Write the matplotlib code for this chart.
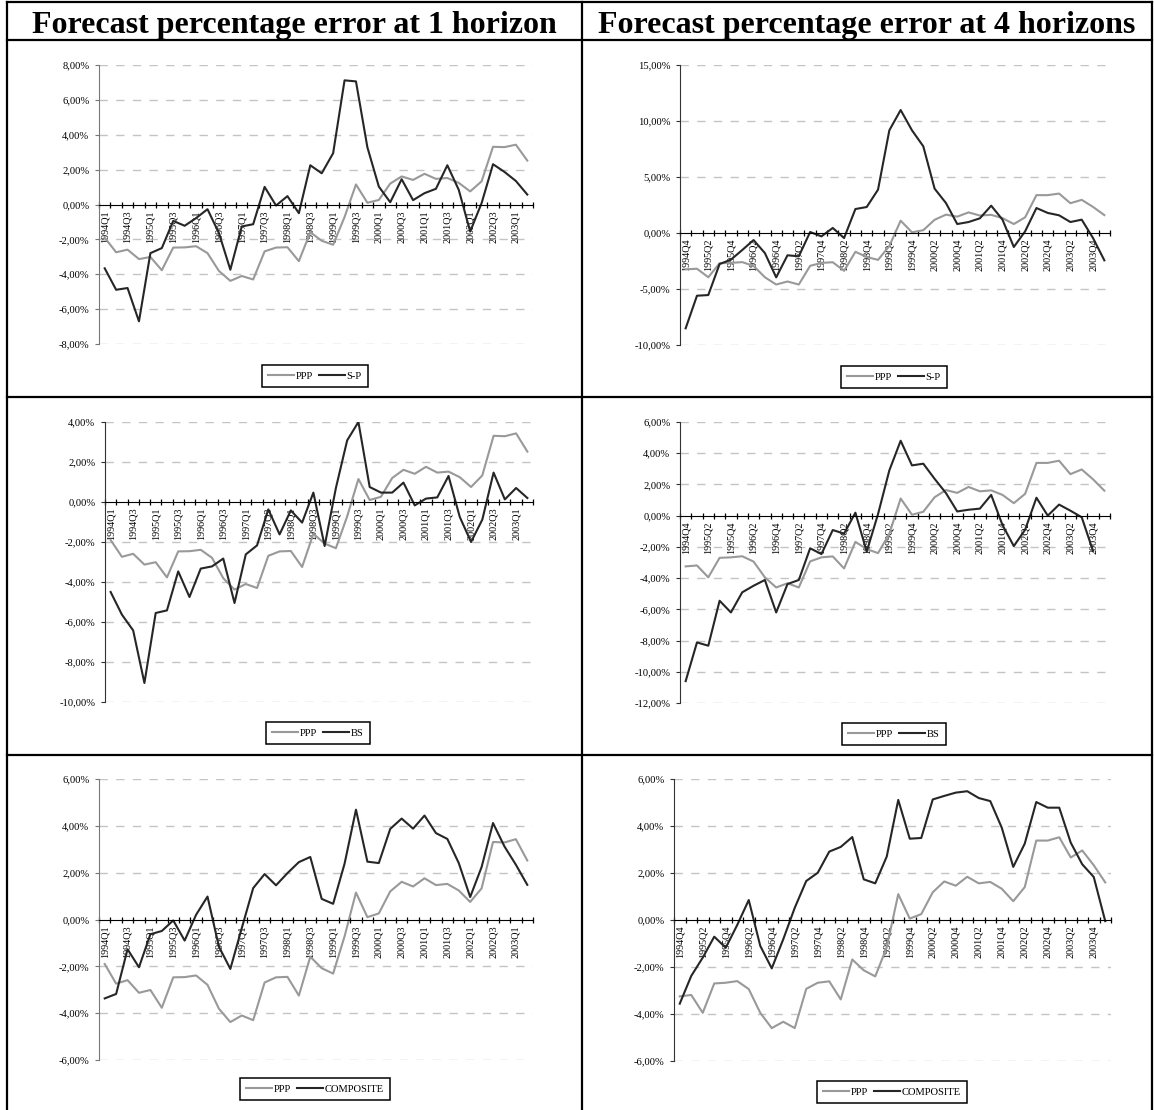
import numpy as np
import matplotlib
matplotlib.use("Agg")
import matplotlib.pyplot as plt
from matplotlib.ticker import FuncFormatter
from matplotlib.lines import Line2D

# ---------------- data ----------------
quarters_h1 = ["1994Q1", "1994Q2", "1994Q3", "1994Q4", "1995Q1", "1995Q2", "1995Q3", "1995Q4",
               "1996Q1", "1996Q2", "1996Q3", "1996Q4", "1997Q1", "1997Q2", "1997Q3", "1997Q4",
               "1998Q1", "1998Q2", "1998Q3", "1998Q4", "1999Q1", "1999Q2", "1999Q3", "1999Q4",
               "2000Q1", "2000Q2", "2000Q3", "2000Q4", "2001Q1", "2001Q2", "2001Q3", "2001Q4",
               "2002Q1", "2002Q2", "2002Q3", "2002Q4", "2003Q1", "2003Q2"]
quarters_h4 = ["1994Q4", "1995Q1", "1995Q2", "1995Q3", "1995Q4", "1996Q1", "1996Q2", "1996Q3",
               "1996Q4", "1997Q1", "1997Q2", "1997Q3", "1997Q4", "1998Q1", "1998Q2", "1998Q3",
               "1998Q4", "1999Q1", "1999Q2", "1999Q3", "1999Q4", "2000Q1", "2000Q2", "2000Q3",
               "2000Q4", "2001Q1", "2001Q2", "2001Q3", "2001Q4", "2002Q1", "2002Q2", "2002Q3",
               "2002Q4", "2003Q1", "2003Q2", "2003Q3", "2003Q4", "2004Q1"]

ppp_h1 = [-1.90, -2.74, -2.59, -3.13, -3.01, -3.77, -2.47, -2.46, -2.39, -2.79, -3.81, -4.38,
          -4.10, -4.30, -2.69, -2.47, -2.45, -3.25, -1.59, -2.08, -2.31, -0.72, 1.15, 0.10,
          0.26, 1.20, 1.61, 1.41, 1.76, 1.47, 1.52, 1.24, 0.75, 1.33, 3.31, 3.29, 3.43, 2.52]
ppp_h4 = [-3.25, -3.19, -3.95, -2.70, -2.67, -2.60, -2.94, -3.95, -4.60, -4.33, -4.60, -2.93,
          -2.67, -2.61, -3.38, -1.68, -2.14, -2.40, -1.16, 1.10, 0.06, 0.25, 1.18, 1.64,
          1.46, 1.84, 1.56, 1.62, 1.33, 0.80, 1.40, 3.38, 3.38, 3.52, 2.66, 2.96, 2.33, 1.60]

sp_h1 = [-3.66, -4.89, -4.79, -6.70, -2.79, -2.50, -0.94, -1.22, -0.78, -0.27, -1.64, -3.74,
         -1.26, -1.13, 1.01, -0.06, 0.48, -0.50, 2.25, 1.79, 2.94, 7.12, 7.06, 3.28,
         1.03, 0.13, 1.45, 0.25, 0.65, 0.90, 2.25, 0.84, -1.55, 0.08, 2.31, 1.87, 1.35, 0.57]
sp_h4 = [-8.51, -5.60, -5.54, -2.77, -2.38, -1.52, -0.63, -1.79, -3.96, -1.99, -2.08, 0.09,
         -0.30, 0.45, -0.45, 2.14, 2.32, 3.87, 9.17, 10.98, 9.17, 7.74, 3.96, 2.68,
         0.80, 0.98, 1.31, 2.44, 1.19, -1.25, 0.15, 2.23, 1.79, 1.58, 0.98, 1.19, -0.45, -2.44]

bs_h1 = [-4.50, -5.63, -6.42, -9.05, -5.55, -5.42, -3.47, -4.75, -3.33, -3.22, -2.83, -5.05,
         -2.62, -2.17, -0.37, -1.62, -0.42, -1.03, 0.47, -2.20, 0.70, 3.08, 4.00, 0.75,
         0.47, 0.47, 0.97, -0.17, 0.17, 0.23, 1.30, -0.75, -2.00, -0.88, 1.47, 0.13, 0.70, 0.20]
bs_h4 = [-10.60, -8.12, -8.33, -5.45, -6.20, -4.91, -4.49, -4.12, -6.20, -4.38, -4.12, -2.09,
         -2.46, -0.92, -1.15, 0.19, -2.30, 0.10, 2.90, 4.80, 3.22, 3.33, 2.36, 1.45,
         0.27, 0.38, 0.45, 1.33, -0.60, -1.95, -0.90, 1.15, 0.00, 0.71, 0.32, -0.10, -2.26, np.nan]

comp_h1 = [-3.37, -3.18, -1.27, -2.04, -0.63, -0.49, -0.04, -0.90, 0.20, 0.98, -1.16, -2.11,
           -0.37, 1.34, 1.94, 1.46, 1.98, 2.45, 2.67, 0.88, 0.67, 2.38, 4.69, 2.47,
           2.41, 3.87, 4.31, 3.88, 4.44, 3.69, 3.44, 2.41, 0.96, 2.24, 4.12, 3.12, 2.34, 1.48]
comp_h4 = [-3.56, -2.38, -1.60, -0.71, -1.18, -0.21, 0.85, -1.10, -2.06, -0.82, 0.52, 1.66,
           2.01, 2.91, 3.11, 3.53, 1.73, 1.56, 2.70, 5.11, 3.46, 3.49, 5.13, 5.28,
           5.42, 5.48, 5.19, 5.06, 3.93, 2.26, 3.25, 5.02, 4.78, 4.78, 3.29, 2.37, 1.83, -0.05]

title_h1 = "Forecast percentage error at 1 horizon"
title_h4 = "Forecast percentage error at 4 horizons"

# ---------------- figure ----------------
W, H = 1154, 1110
plt.rcParams["font.family"] = ["Liberation Serif", "DejaVu Serif"]
fig = plt.figure(figsize=(W / 100, H / 100), dpi=100)

PPP_COLOR = "#999999"
DARK = "#262626"


def pct(v, pos):
    s = f"{v:.2f}%".replace(".", ",")
    if s.startswith("-0,00"):
        s = s[1:]
    return s


def panel(box, ylim, step, cats, ppp, other, name, leg_center, spine_color):
    x0, x1, ytop, ybot = box
    ax = fig.add_axes([x0 / W, 1 - ybot / H, (x1 - x0) / W, (ybot - ytop) / H])
    ax.patch.set_alpha(0)
    n = len(cats)
    xs = np.arange(n) + 0.5
    ax.plot(xs, ppp, color=PPP_COLOR, lw=1.5, label="PPP", zorder=3)
    ax.plot(xs, other, color=DARK, lw=1.5, label=name, zorder=4)
    ax.set_xlim(0, n)
    ax.set_ylim(*ylim)
    yt = np.arange(ylim[0], ylim[1] + step / 2, step)
    ax.set_yticks(yt)
    ax.yaxis.set_major_formatter(FuncFormatter(pct))
    for t in yt:
        if abs(t) > 1e-9:
            ax.axhline(t, color="#c4c4c4", lw=1.0, ls=(0, (6, 6)), zorder=1)
    ax.spines["top"].set_visible(False)
    ax.spines["right"].set_visible(False)
    ax.spines["left"].set_color(spine_color)
    ax.spines["bottom"].set_position(("data", 0))
    ax.spines["bottom"].set_color("black")
    ax.spines["bottom"].set_zorder(5)
    ax.set_xticks(np.arange(0, n + 1))
    ax.set_xticklabels([])
    ax.set_xticks(xs[::2], minor=True)
    ax.set_xticklabels(cats[::2], minor=True, rotation=90, fontsize=7.3)
    ax.tick_params(axis="x", which="major", direction="inout", length=5, width=0.9)
    ax.tick_params(axis="x", which="minor", length=0, pad=4)
    ax.tick_params(axis="y", direction="out", length=3, width=0.8, labelsize=7.6, pad=4,
                   color=spine_color)
    leg = ax.legend(loc="center", bbox_to_anchor=(leg_center[0] / W, 1 - leg_center[1] / H),
                    bbox_transform=fig.transFigure, ncol=2, fontsize=7.6, frameon=True,
                    fancybox=False, edgecolor="black", framealpha=1, handlelength=2.4,
                    handletextpad=0.2, columnspacing=0.6, borderpad=0.6, borderaxespad=0)
    leg.get_frame().set_linewidth(1.1)
    return ax


panel((99, 533, 65, 344), (-8, 8), 2, quarters_h1, ppp_h1, sp_h1, "S-P", (315, 376), "#777777")
panel((680, 1110, 65, 345), (-10, 15), 5, quarters_h4, ppp_h4, sp_h4, "S-P", (894, 377), "#333333")
panel((105, 533, 422, 702), (-10, 4), 2, quarters_h1, ppp_h1, bs_h1, "BS", (318, 733), "#333333")
panel((680, 1110, 422, 703), (-12, 6), 2, quarters_h4, ppp_h4, bs_h4, "BS", (894, 734), "#333333")
panel((99, 533, 779, 1060), (-6, 6), 2, quarters_h1, ppp_h1, comp_h1, "COMPOSITE", (315, 1089),
      "#777777")
panel((674, 1111, 779, 1061), (-6, 6), 2, quarters_h4, ppp_h4, comp_h4, "COMPOSITE", (892, 1092),
      "#333333")

# table lines
lw_tab = 1.6
for y in [1.5, 40, 397, 755]:
    fig.add_artist(Line2D([6.5 / W, 1151.5 / W], [1 - y / H, 1 - y / H], color="black",
                          lw=lw_tab, transform=fig.transFigure))
for x in [6.5, 581.5, 1151.5]:
    fig.add_artist(Line2D([x / W, x / W], [1 - 1.5 / H, 0], color="black",
                          lw=lw_tab, transform=fig.transFigure))

fig.text(294 / W, 1 - 33 / H, title_h1, fontsize=23, fontweight="bold", ha="center",
         va="baseline")
fig.text(866.5 / W, 1 - 33 / H, title_h4, fontsize=23, fontweight="bold", ha="center",
         va="baseline")

fig.savefig("out.png", dpi=100)
